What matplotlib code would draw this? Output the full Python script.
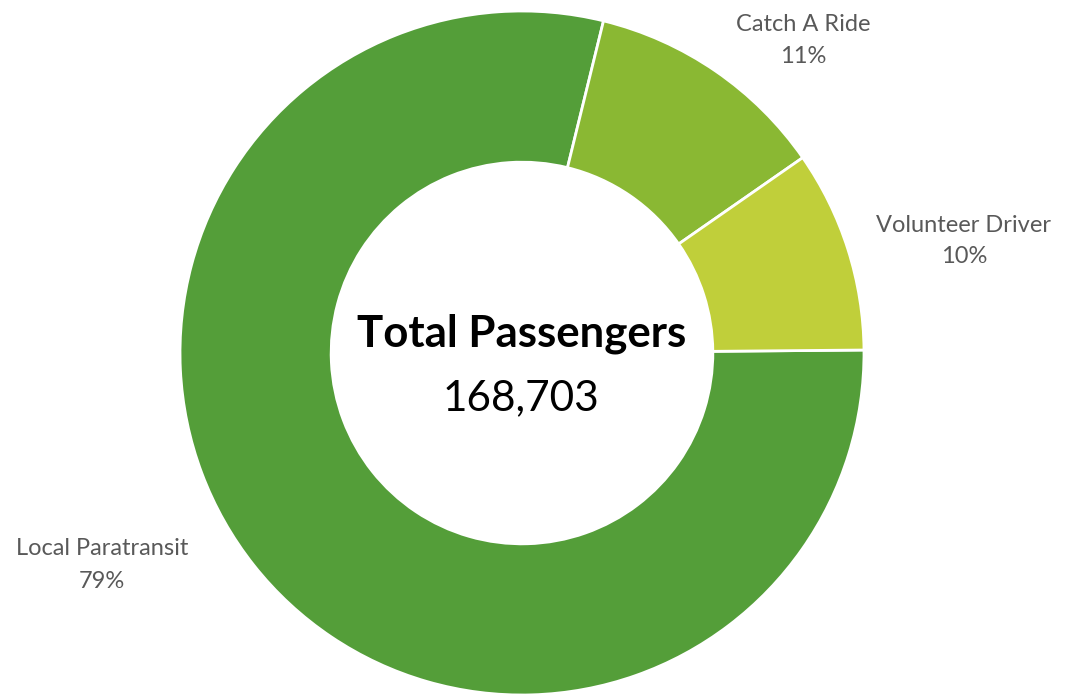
import matplotlib.pyplot as plt

# passengers by service
services = ['Local Paratransit', 'Catch A Ride', 'Volunteer Driver']
passengers = [133224, 19390, 16089]
colors = ['#549E39', '#8AB833', '#C0CF3A']
total = sum(passengers)

plt.rcParams['font.family'] = ['Lato', 'DejaVu Sans']

fig = plt.figure(figsize=(10.65, 6.96), dpi=100)
ax = fig.add_axes([0, 0, 1, 1])

wedges, _ = ax.pie(passengers, colors=colors, startangle=0.5, counterclock=False,
                   radius=1, wedgeprops=dict(width=0.442, edgecolor='white', linewidth=2))

R = 342.0  # pixels per unit radius
def px(x, y):
    return (x - 522) / R, (353 - y) / R

# outside labels: centre x and baselines of the two lines, in pixels
label_pos = [(102, 555, 588), (803, 31, 63), (964, 232, 263)]
for name, val, (x, y1, y2) in zip(services, passengers, label_pos):
    pct = round(val / total * 100)
    ax.text(*px(x, y1), name, ha='center', va='baseline', fontsize=17, color='#595959')
    ax.text(*px(x, y2), f'{pct}%', ha='center', va='baseline', fontsize=17, color='#595959')

ax.text(*px(522, 347), 'Total Passengers', ha='center', va='baseline', fontsize=31.5, fontweight='bold')
ax.text(*px(521, 410), f'{total:,}', ha='center', va='baseline', fontsize=30.5)

ax.set_xlim(-522 / R, (1065 - 522) / R)
ax.set_ylim(-343 / R, 353 / R)
ax.set_aspect('auto')
ax.axis('off')

fig.savefig('out.png', dpi=100)
